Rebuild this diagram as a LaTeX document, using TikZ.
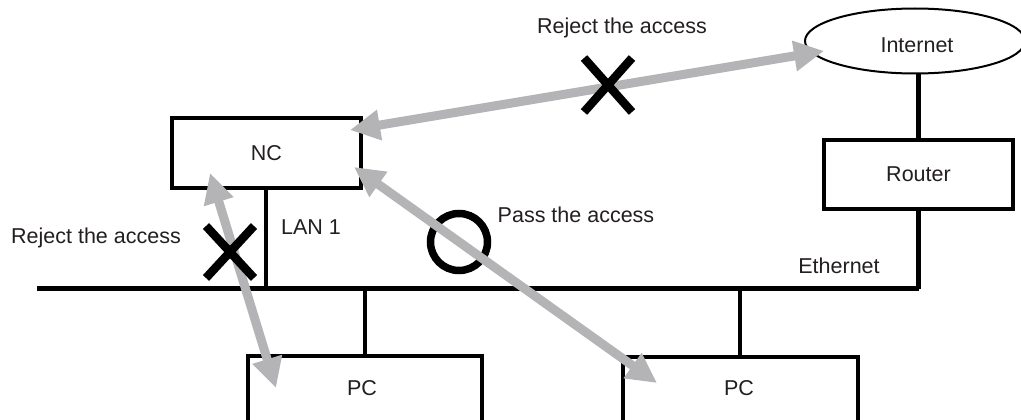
\documentclass[tikz,border=0pt]{standalone}
\usepackage{fontspec}
\setmainfont{Liberation Sans}
\usetikzlibrary{arrows.meta,shapes.geometric,calc}
\definecolor{arrowgray}{RGB}{180,180,182}
\definecolor{txt}{RGB}{35,31,32}
\tikzset{
  lbl/.style={inner sep=0pt, text=txt, font=\fontsize{21.5}{24}\selectfont},
  wire/.style={line width=4.2pt, black},
  boxshape/.style={draw=black, line width=4.2pt, inner sep=0pt, text=txt, font=\fontsize{21.5}{24}\selectfont},
  garrow/.style={line width=9pt, arrowgray, {Triangle[length=30pt,width=29pt]}-{Triangle[length=30pt,width=29pt]}},
  cross/.style={line width=8.5pt, black},
}
\begin{document}
\begin{tikzpicture}[x=1pt,y=-1pt]
\useasboundingbox (0,0) rectangle (1021,420);
\clip (0,0) rectangle (1021,420);
\fill[white] (0,0) rectangle (1021,420);
% nodes
\node[boxshape, minimum width=189pt, minimum height=70pt] (nc) at (266.5,153) {NC};
\node[boxshape, minimum width=189pt, minimum height=69pt] (router) at (918.5,174.5) {Router};
\node[draw=black, line width=2pt, ellipse, minimum width=220pt, minimum height=65pt, inner sep=0pt] (inet) at (915,41) {};
\node[lbl] at (917,45) {Internet};
\node[boxshape, minimum width=234pt, minimum height=120pt, anchor=north] (pc1) at (365,354) {};
\node[lbl] (pc1t) at (362,388) {PC};
\node[boxshape, minimum width=235pt, minimum height=120pt, anchor=north] (pc2) at (740.5,355) {};
\node[lbl] (pc2t) at (739,388) {PC};
% ethernet
\coordinate (ethL) at (37,288.5);
\coordinate (ethR) at (918.5,288.5);
\draw[wire] (ethL) -- (ethR);
\draw[wire] (nc.south -| 266,0) -- (266,288.5);
\draw[wire] (router.south) -- (ethR);
\draw[wire] (inet.south -| router.north) -- (router.north);
\draw[wire] (365,288.5) -- (pc1.north);
\draw[wire] (740,288.5) -- (pc2.north -| 740,0);
% labels
\node[lbl] (rej1) at (622,28) {Reject the access};
\node[lbl] (rej2) at (96,238) {Reject the access};
\node[lbl] (lan) at (311,227) {LAN 1};
\node[lbl] (pass) at (576,215) {Pass the access};
\node[lbl] (eth) at (839,266) {Ethernet};
% circle
\node[draw=black, line width=7.5pt, circle, minimum size=57pt, inner sep=0pt] (ok) at (459,242) {};
% arrow end points
\coordinate (a1s) at (350,130);
\coordinate (a1e) at (824,51);
\coordinate (a2s) at (354,167);
\coordinate (a2e) at (657,383);
\coordinate (a3s) at (210,173);
\coordinate (a3e) at (276,388);
\draw[garrow] (a1s) -- (a1e);
\draw[garrow] (a2s) -- (a2e);
\draw[garrow] (a3s) -- (a3e);
% crosses
\coordinate (x1) at (608,85);
\coordinate (x2) at (230,252);
\draw[cross] ($(x1)+(-24,-27)$) -- ($(x1)+(24,27)$);
\draw[cross] ($(x1)+(-24,27)$) -- ($(x1)+(24,-27)$);
\draw[cross] ($(x2)+(-24,-26)$) -- ($(x2)+(24,26)$);
\draw[cross] ($(x2)+(-24,26)$) -- ($(x2)+(24,-26)$);
\end{tikzpicture}
\end{document}
